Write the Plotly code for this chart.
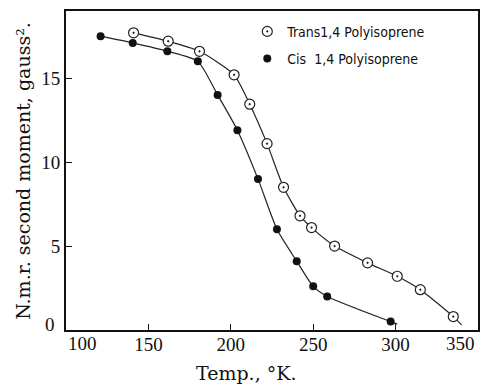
import plotly.graph_objects as go

# Data
trans_temp = [141, 162, 181, 202, 211.5, 222, 232, 242, 249, 263, 283, 301, 315, 335]
trans_m2 = [17.7, 17.2, 16.6, 15.2, 13.45, 11.1, 8.5, 6.8, 6.1, 5.0, 4.0, 3.2, 2.4, 0.8]
trans_curve_end = (340, 0.3)

cis_temp = [121, 140.5, 161.5, 180, 192, 204, 216.5, 228, 240, 250, 258.5, 297]
cis_m2 = [17.5, 17.1, 16.6, 16.0, 14.0, 11.9, 9.0, 6.0, 4.1, 2.6, 2.0, 0.5]
cis_curve_end = (301, 0.35)

x_ticks = [150, 200, 250, 300]
y_ticks = [5, 10, 15]
x_edge_labels = [100, 350]
y_zero_label = 0

serif = "Liberation Serif"
title_font = "DejaVu Serif"

fig = go.Figure()

fig.add_trace(go.Scatter(
    x=trans_temp + [trans_curve_end[0]], y=trans_m2 + [trans_curve_end[1]],
    mode="lines", line=dict(color="#222", width=1.2, shape="spline", smoothing=0.6),
    showlegend=False, hoverinfo="skip"))
fig.add_trace(go.Scatter(
    x=cis_temp + [cis_curve_end[0]], y=cis_m2 + [cis_curve_end[1]],
    mode="lines", line=dict(color="#222", width=1.2, shape="spline", smoothing=0.6),
    showlegend=False, hoverinfo="skip"))

fig.add_trace(go.Scatter(
    x=trans_temp, y=trans_m2, mode="markers", name="Trans1,4 Polyisoprene",
    legendgroup="trans",
    marker=dict(symbol="circle-dot", size=10, color="white",
                line=dict(color="#222", width=1.2))))
fig.add_trace(go.Scatter(
    x=cis_temp, y=cis_m2, mode="markers", name="Cis  1,4 Polyisoprene",
    legendgroup="cis",
    marker=dict(symbol="circle", size=8, color="#111")))

annotations = [
    dict(x=x_edge_labels[0], y=0, xref="x", yref="paper", text=str(x_edge_labels[0]),
         showarrow=False, xshift=16, yshift=-1, yanchor="top",
         font=dict(family=serif, size=19, color="#111")),
    dict(x=x_edge_labels[1], y=0, xref="x", yref="paper", text=str(x_edge_labels[1]),
         showarrow=False, xshift=-1, yshift=-1, xanchor="right", yanchor="top",
         font=dict(family=serif, size=19, color="#111")),
    dict(x=0, y=y_zero_label, xref="paper", yref="y", text=str(y_zero_label),
         showarrow=False, xshift=-9, yshift=6, xanchor="right",
         font=dict(family=serif, size=19, color="#111")),
    dict(x=0.437, y=-0.135, xref="paper", yref="paper", text="Temp., °K.",
         xanchor="center", yanchor="middle",
         showarrow=False, font=dict(family=title_font, size=19, color="#111")),
    dict(x=-0.106, y=0.5, xref="paper", yref="paper",
         text="N.m.r. second moment, gauss².", textangle=-90,
         xanchor="center", yanchor="middle",
         showarrow=False, font=dict(family=title_font, size=19, color="#111")),
]

fig.update_layout(
    width=482, height=385,
    margin=dict(l=66, r=2, t=11, b=55),
    paper_bgcolor="white", plot_bgcolor="white",
    showlegend=True,
    legend=dict(x=0.44, y=0.985, xanchor="left", yanchor="top", tracegroupgap=6,
                bgcolor="rgba(0,0,0,0)", font=dict(family="DejaVu Sans Condensed", size=14, color="#111")),
    annotations=annotations,
    xaxis=dict(range=[100, 350], tickvals=x_ticks, ticks="inside", ticklen=6,
               tickcolor="#111", showgrid=False, zeroline=False, ticklabelstandoff=-4,
               showline=True, linecolor="#111", linewidth=1.8, mirror=True,
               tickfont=dict(family=serif, size=19, color="#111")),
    yaxis=dict(range=[0, 19], tickvals=y_ticks, ticks="inside", ticklen=6,
               tickcolor="#111", showgrid=False, zeroline=False,
               showline=True, linecolor="#111", linewidth=1.8, mirror=True,
               tickfont=dict(family=serif, size=19, color="#111")),
)

fig.write_html("out.html")
